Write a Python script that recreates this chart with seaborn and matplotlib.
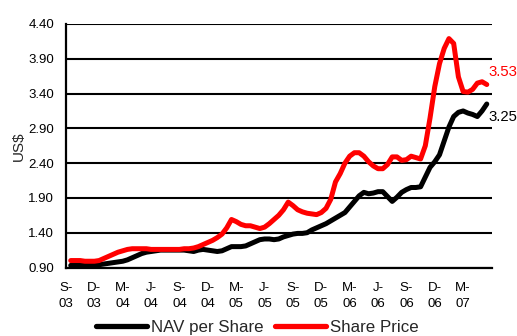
import numpy as np
import pandas as pd
import matplotlib
matplotlib.use("Agg")
import matplotlib.pyplot as plt
import matplotlib.transforms as mtransforms
import seaborn as sns

# Month offsets from September 2003, sampled twice a month
months = np.arange(0.5, 44.75, 0.5)

share_price = [
    1.00, 1.00, 1.00, 0.99, 0.99, 0.99,
    1.00, 1.03, 1.06, 1.09, 1.12, 1.14,
    1.16, 1.17, 1.17, 1.17, 1.17, 1.16,
    1.16, 1.16, 1.16, 1.16, 1.16, 1.16,
    1.17, 1.17, 1.18, 1.20, 1.23, 1.26,
    1.29, 1.33, 1.38, 1.47, 1.59, 1.56,
    1.52, 1.50, 1.50, 1.48, 1.46, 1.48,
    1.53, 1.59, 1.65, 1.73, 1.84, 1.79,
    1.73, 1.70, 1.68, 1.67, 1.66, 1.69,
    1.75, 1.88, 2.13, 2.25, 2.40, 2.50,
    2.55, 2.55, 2.50, 2.42, 2.36, 2.32,
    2.32, 2.38, 2.49, 2.49, 2.44, 2.45,
    2.50, 2.48, 2.46, 2.65, 3.05, 3.50,
    3.83, 4.05, 4.19, 4.12, 3.64, 3.43,
    3.42, 3.46, 3.55, 3.57, 3.53,
]

nav_per_share = [
    0.93, 0.93, 0.93, 0.93, 0.93, 0.93,
    0.94, 0.95, 0.96, 0.97, 0.98, 0.99,
    1.01, 1.04, 1.07, 1.10, 1.12, 1.13,
    1.14, 1.15, 1.15, 1.15, 1.15, 1.15,
    1.15, 1.14, 1.13, 1.15, 1.16, 1.15,
    1.14, 1.13, 1.14, 1.17, 1.20, 1.20,
    1.20, 1.21, 1.24, 1.27, 1.30, 1.31,
    1.31, 1.30, 1.31, 1.34, 1.36, 1.38,
    1.39, 1.39, 1.40, 1.44, 1.47, 1.50,
    1.53, 1.57, 1.61, 1.65, 1.69, 1.77,
    1.85, 1.93, 1.98, 1.96, 1.97, 1.99,
    1.99, 1.92, 1.85, 1.91, 1.98, 2.02,
    2.05, 2.05, 2.06, 2.20, 2.34, 2.42,
    2.52, 2.72, 2.92, 3.07, 3.13, 3.15,
    3.12, 3.10, 3.07, 3.15, 3.25,
]

series_names = ["NAV per Share", "Share Price"]
series_colors = ["#000000", "#ff0000"]

tick_months = np.arange(0, 46, 3)
tick_labels = ["S-\n03", "D-\n03", "M-\n04", "J-\n04", "S-\n04", "D-\n04",
               "M-\n05", "J-\n05", "S-\n05", "D-\n05", "M-\n06", "J-\n06",
               "S-\n06", "D-\n06", "M-\n07", ""]
y_ticks = [0.90, 1.40, 1.90, 2.40, 2.90, 3.40, 3.90, 4.40]

df = pd.concat([
    pd.DataFrame({"month": months, "value": nav_per_share, "series": series_names[0]}),
    pd.DataFrame({"month": months, "value": share_price, "series": series_names[1]}),
])

sns.set_style("white")
plt.rcParams["font.family"] = ["Liberation Sans", "DejaVu Sans"]

fig = plt.figure(figsize=(5.17, 3.36), dpi=100)
ax = fig.add_axes([66 / 517, 1 - 267.5 / 336, 425.5 / 517, 243.5 / 336])

sns.lineplot(data=df, x="month", y="value", hue="series",
             hue_order=series_names, palette=series_colors,
             linewidth=3.6, legend=False, ax=ax)
for ln in ax.lines:
    ln.set_solid_capstyle("round")
    ln.set_solid_joinstyle("round")

ax.set_xlim(0, 45)
ax.set_ylim(0.90, 4.40)
ax.set_yticks(y_ticks)
ax.set_yticklabels([f"{v:.2f}" for v in y_ticks], fontsize=9.5)
ax.set_xticks(tick_months)
ax.set_xticklabels(tick_labels, fontsize=9.5, linespacing=1.45)
offset = mtransforms.ScaledTranslation(5 / 100, 0, fig.dpi_scale_trans)
for lbl in ax.get_xticklabels():
    lbl.set_transform(lbl.get_transform() + offset)

ax.grid(axis="y", color="black", linewidth=1.5)
ax.grid(axis="x", visible=False)
ax.set_axisbelow(True)
for side in ["top", "right"]:
    ax.spines[side].set_visible(False)
for side in ["left", "bottom"]:
    ax.spines[side].set_color("black")
    ax.spines[side].set_linewidth(1.6)
ax.tick_params(axis="both", which="major", direction="out", length=3.5,
               width=1.4, color="black", labelcolor="black")
ax.tick_params(axis="y", pad=5)
ax.tick_params(axis="x", pad=7)

ax.set_xlabel("")
ax.set_ylabel("US$", fontsize=11, labelpad=2)

# End-of-series value labels
ax.annotate(f"{share_price[-1]:.2f}", xy=(months[-1], share_price[-1]),
            xytext=(1, 9), textcoords="offset points", color="#ff0000",
            fontsize=10.7, ha="left", va="center", annotation_clip=False)
ax.annotate(f"{nav_per_share[-1]:.2f}", xy=(months[-1], nav_per_share[-1]),
            xytext=(1, -9), textcoords="offset points", color="black",
            fontsize=10.7, ha="left", va="center", annotation_clip=False)

leg = fig.legend(ax.lines[:2], series_names, loc="lower center",
                 bbox_to_anchor=(0.498, 0.0), ncol=2, frameon=False,
                 fontsize=12.2, handlelength=3.0, handletextpad=0.25,
                 columnspacing=0.65, borderaxespad=0, borderpad=0.05)
for h in leg.get_lines():
    h.set_linewidth(3.8)

fig.savefig("out.png", dpi=100)
